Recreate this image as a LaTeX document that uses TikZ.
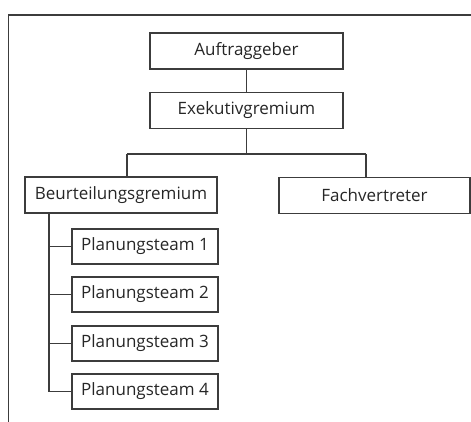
\documentclass[tikz,border=0pt]{standalone}
\usepackage{fontspec}
\setmainfont{Open Sans}
\tikzstyle{org-box}=[draw=OrgLine, line width=1.3pt, rectangle, inner sep=0pt, minimum height=36pt, text=OrgText, font=\fontsize{17}{20}\selectfont]
\tikzstyle{org-line}=[draw=OrgLine, line width=1.3pt]
\definecolor{OrgLine}{HTML}{3c3c3c}
\definecolor{OrgText}{HTML}{262626}

\begin{document}
\begin{tikzpicture}[x=1pt, y=-1pt]
      \useasboundingbox (0,0) rectangle (471,422);
      % rahmen
      \draw[org-line] (8.5,422) -- (8.5,15) -- (471,15);

      \node (org-auftraggeber) at (246.5,51) [org-box, minimum width=193pt] {Auftraggeber};
      \node (org-exekutiv) at (246.5,110.5) [org-box, minimum width=193pt] {Exekutivgremium};
      \node (org-beurteilung) at (121,195) [org-box, minimum width=192pt] {Beurteilungsgremium};
      \node (org-fach) at (374.5,195.5) [org-box, minimum width=191pt] {Fachvertreter};

      \node (org-team1) at (145,246.5) [org-box, minimum width=146pt, minimum height=35pt] {Planungsteam 1};
      \node (org-team2) at (145,294.5) [org-box, minimum width=146pt, minimum height=35pt] {Planungsteam 2};
      \node (org-team3) at (145,343.5) [org-box, minimum width=146pt, minimum height=35pt] {Planungsteam 3};
      \node (org-team4) at (145,391.5) [org-box, minimum width=146pt, minimum height=35pt] {Planungsteam 4};

      \coordinate (join-mid) at (246.5,154);
      \coordinate (join-left) at (127,154);
      \coordinate (join-right) at (366,154);
      \coordinate (spine-top) at (49,213);

      \draw[org-line] (org-auftraggeber) -- (org-exekutiv);
      \draw[org-line] (org-exekutiv) -- (join-mid);
      \draw[org-line] (join-left) -- (join-right);
      \draw[org-line] (join-left) -- (join-left |- org-beurteilung.north);
      \draw[org-line] (join-right) -- (join-right |- org-fach.north);
      \draw[org-line] (spine-top) |- (org-team4.west);
      \draw[org-line] (spine-top |- org-team1.west) -- (org-team1.west);
      \draw[org-line] (spine-top |- org-team2.west) -- (org-team2.west);
      \draw[org-line] (spine-top |- org-team3.west) -- (org-team3.west);
    \end{tikzpicture}
\end{document}
